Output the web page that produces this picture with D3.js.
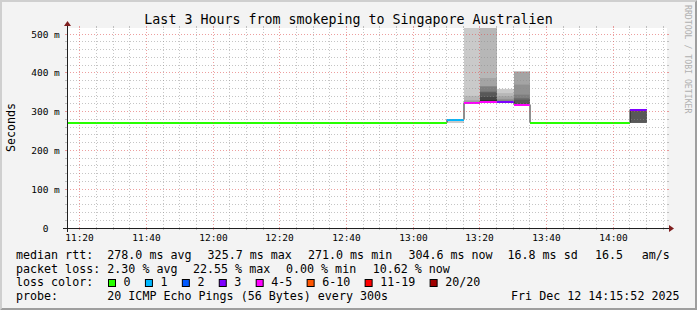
<!DOCTYPE html>
<html><head><meta charset="utf-8">
<script src="https://cdn.jsdelivr.net/npm/d3@7"></script>
<style>
html,body{margin:0;padding:0;background:#f3f3f3;}
svg{display:block;}
text{font-family:"DejaVu Sans Mono",monospace;fill:#000;}
</style></head><body>
<svg id="c" width="697" height="310"></svg>
<script>
// ---------------- data ----------------
const title = "Last 3 Hours from smokeping to Singapore Australien";
const firstInterval = "11:15";          // start of first 5-minute step
const stepMinutes = 5;
// median RTT (ms) per 5-minute step, 11:15 .. 14:05
const medianRtt = [
  271,271,271,271,271,271,271,271,271,271,
  271,271,271,271,271,271,271,271,271,271,
  271,271,271,
  279,323.5,324.5,325.7,317,
  271,271,271,271,271,271,
  304.6
];
// lost pings (out of 20) per step
const lossPings = [
  0,0,0,0,0,0,0,0,0,0,
  0,0,0,0,0,0,0,0,0,0,
  0,0,0,
  0.6,4.51,3.5,2.3,3.1,
  0,0,0,0,0,0,
  2.12
];
// sorted ping RTTs (ms) for the steps with visible smoke (null = lost)
const smokeTimes = ["13:10","13:15","13:20","13:25","13:30","14:05"];
const smokePings = [
  [271.5,271,278.5,278.8,279,279,279,279,279,279,279,279.2,279.3,279.4,279.5,279.6,279.8,280,280.5,null],
  [null,321,322,322.5,323,323,323,323,323.2,323.4,323.5,323.8,324,324.5,325,326,330,341,2000,null],
  [null,null,323,323.2,323.5,323.8,324,324.2,324.4,324.5,330,338,350,352,365,366,387,2000,null,null],
  [null,325,325.2,325.3,325.4,325.5,325.6,325.6,325.7,325.7,325.7,325.8,326,327,329,333,340,348,358.8,null],
  [null,null,null,316,316.2,316.4,316.6,316.8,317,317,317,321,331,335,344,370,404,null,null,null],
  [null,271,271,271.2,271.3,271.4,271.5,271.6,303.5,304,304.4,304.6,304.8,305,305.2,305.4,305.6,305.8,306,null]
];
const lossLabels = ["0","1","2","3","4-5","6-10","11-19","20/20"];
const lossUpper  = [0,1,2,3,5,10,19,20];
const lossColors = ["#26ff00","#00b8ff","#0059ff","#7e00ff","#ff00fe","#ff5500","#ff0000","#a00000"];
const yMajorTicks = [0,100,200,300,400,500];
const yTickLabels = ["0","100","200","300","400","500"];
const yTickUnits  = ["","m","m","m","m","m"];
const legendRtt  = ["median rtt:","278.0 ms avg","325.7 ms max","271.0 ms min","304.6 ms now","16.8 ms sd","16.5","am/s"];
const legendLoss = ["packet loss:","2.30 % avg","22.55 % max","0.00 % min","10.62 % now"];
const probeText = ["probe:","20 ICMP Echo Pings (56 Bytes) every 300s"];
const dateText = "Fri Dec 12 14:15:52 2025";

// ---------------- layout ----------------
const W=697,H=310,X0=67,X1=667,Y0=228,Y1=28,YMAX=516;
const svg=d3.select("#c");
const T=(h,m,s=0)=>new Date(Date.UTC(2025,11,12,h,m,s));
const parseHM=s=>{const [h,m]=s.split(":").map(Number);return T(h,m);};
const x=d3.scaleUtc().domain([T(11,16,10),T(14,16,10)]).range([X0,X1]);
const y=d3.scaleLinear().domain([0,YMAX]).range([Y0,Y1]);
const stepMs=stepMinutes*60000;
const t0=parseHM(firstInterval);
const xe=t=>Math.ceil(x(t));

svg.append("rect").attr("width",W).attr("height",H).attr("fill","#f3f3f3");
svg.append("polygon").attr("points",`0,${H} 2,${H-2} 2,2 ${W-2},2 ${W},0 0,0`).attr("fill","#cfcfcf");
svg.append("polygon").attr("points",`2,${H-2} ${W-2},${H-2} ${W-2},2 ${W},0 ${W},${H} 0,${H}`).attr("fill","#9e9e9e");
svg.append("rect").attr("x",X0).attr("y",Y1).attr("width",X1-X0).attr("height",Y0-Y1).attr("fill","#fff");

svg.append("clipPath").attr("id","pc").append("rect").attr("x",X0).attr("y",Y1).attr("width",X1-X0).attr("height",Y0-Y1);
const g=svg.append("g").attr("clip-path","url(#pc)");

// smoke
smokeTimes.forEach((ts,k)=>{
  const t=parseHM(ts), xa=xe(t), xb=xe(new Date(+t+stepMs));
  const cp=smokePings[k].map(v=>v==null?null:(v>=YMAX?Infinity:v));
  for(let ib=1;ib<=10;ib++){
    const lo=cp[ib-1], hi=cp[20-ib];
    if(lo==null||hi==null) continue;
    const c=Math.floor(190/10*(10-ib))+50;
    const yt=hi===Infinity?Y1:y(hi), yb=y(lo);
    g.append("rect").attr("x",xa).attr("width",xb-xa).attr("y",yt).attr("height",Math.max(0,yb-yt))
      .attr("fill",d3.rgb(c,c,c));
  }
});

// median thin line
const pts=medianRtt.map((m,i)=>[xe(new Date(+t0+i*stepMs)),Math.round(y(m))-0.5]);
pts.push([xe(new Date(+t0+medianRtt.length*stepMs)),pts[pts.length-1][1]]);
g.append("path").attr("d",d3.line().curve(d3.curveStepAfter)(pts)).attr("fill","none").attr("stroke","#202020").attr("stroke-width",1);

// loss coloured median bands
const lossClass=l=>{ if(l<=0) return 0; for(let k=1;k<lossUpper.length;k++){ if(l>lossUpper[k-1]&&l<=lossUpper[k]) return k;} return lossUpper.length-1; };
medianRtt.forEach((m,i)=>{
  const ta=new Date(+t0+i*stepMs), tb=new Date(+ta+stepMs);
  const xa=xe(ta), xb=xe(tb), yy=Math.round(y(m));
  g.append("rect").attr("x",xa).attr("width",xb-xa).attr("y",yy-1).attr("height",2).attr("fill",lossColors[lossClass(lossPings[i])]);
});

// grid
const minorCol="rgba(140,140,140,0.5)", majorCol="rgba(222,80,80,0.55)";
const gg=svg.append("g").attr("shape-rendering","crispEdges");
for(let v=20;v<YMAX;v+=20){
  const maj=v%100===0, col=maj?majorCol:minorCol, yy=Math.floor(y(v))+0.5;
  gg.append("line").attr("x1",X0-2).attr("x2",X0).attr("y1",yy).attr("y2",yy).attr("stroke",col);
  gg.append("line").attr("x1",X1).attr("x2",X1+2).attr("y1",yy).attr("y2",yy).attr("stroke",col);
  gg.append("line").attr("x1",X0).attr("x2",X1).attr("y1",yy).attr("y2",yy).attr("stroke",col).attr("stroke-dasharray","1,2");
}
const [dA,dB]=x.domain();
d3.utcMinute.every(5).range(dA,dB).forEach(t=>{
  const maj=t.getUTCMinutes()%20===0, col=maj?majorCol:minorCol, xx=Math.floor(x(t))+0.5;
  gg.append("line").attr("x1",xx).attr("x2",xx).attr("y1",Y0).attr("y2",Y0+2).attr("stroke",col);
  gg.append("line").attr("x1",xx).attr("x2",xx).attr("y1",Y1-2).attr("y2",Y1).attr("stroke",col);
  gg.append("line").attr("x1",xx).attr("x2",xx).attr("y1",Y0).attr("y2",Y1).attr("stroke",col).attr("stroke-dasharray","1,2");
});

// axes
gg.append("line").attr("x1",X0-4).attr("x2",X1+4).attr("y1",Y0+0.5).attr("y2",Y0+0.5).attr("stroke","#202020");
gg.append("line").attr("x1",X0+0.5).attr("x2",X0+0.5).attr("y1",Y0+4).attr("y2",Y1-4).attr("stroke","#202020");
svg.append("polygon").attr("points",`${X1+2},${Y0-3} ${X1+2},${Y0+4} ${X1+7},${Y0+0.5}`).attr("fill","#7f1f1f");
svg.append("polygon").attr("points",`${X0-3},${Y1-2} ${X0+4},${Y1-2} ${X0+0.5},${Y1-7}`).attr("fill","#7f1f1f");

// axis labels
d3.utcMinute.every(20).range(dA,dB).forEach(t=>{
  svg.append("text").attr("x",Math.floor(x(t))+0.5).attr("y",240.7).attr("text-anchor","middle")
    .style("font-size","9.5px").text(d3.utcFormat("%H:%M")(t));
});
yMajorTicks.forEach((v,i)=>{
  const yy=y(v)+3.5;
  svg.append("text").attr("x",48.5).attr("y",yy).attr("text-anchor","end").style("font-size","9.5px").text(yTickLabels[i]);
  if(yTickUnits[i]) svg.append("text").attr("x",54).attr("y",yy).style("font-size","9.5px").text(yTickUnits[i]);
});
svg.append("text").attr("transform","translate(15,127.5) rotate(-90)").attr("text-anchor","middle").style("font-size","11.67px").text("Seconds");

// title + watermark
svg.append("text").attr("x",348.5).attr("y",24).attr("text-anchor","middle").style("font-size","13.3px").text(title);
svg.append("text").attr("transform","translate(685,5) rotate(90)").style("font-size","8.2px").style("fill","#b0b0b0").text("RRDTOOL / TOBI OETIKER");

// legend
const LF="11.67px";
const l1x=[16,107.3,207.6,308,408.4,507.5,595,641.7];
legendRtt.forEach((s,i)=>svg.append("text").attr("x",l1x[i]).attr("y",259).style("font-size",LF).text(s));
const l2x=[16,107.3,193,286,372.7];
legendLoss.forEach((s,i)=>svg.append("text").attr("x",l2x[i]).attr("y",272.7).style("font-size",LF).text(s));
svg.append("text").attr("x",16).attr("y",286.4).style("font-size",LF).text("loss color:");
let bx=108;
lossLabels.forEach((s,i)=>{
  svg.append("rect").attr("x",bx+0.5).attr("y",279.5).attr("width",7).attr("height",7).attr("fill",lossColors[i]).attr("stroke","#000");
  svg.append("text").attr("x",bx+15.6).attr("y",286.4).style("font-size",LF).text(s);
  bx=bx+15.6+s.length*7.02+14.3;
});
svg.append("text").attr("x",16).attr("y",300).style("font-size",LF).text(probeText[0]);
svg.append("text").attr("x",107.3).attr("y",300).style("font-size",LF).text(probeText[1]);
svg.append("text").attr("x",679.5).attr("y",300).attr("text-anchor","end").style("font-size",LF).text(dateText);
</script>
</body></html>
